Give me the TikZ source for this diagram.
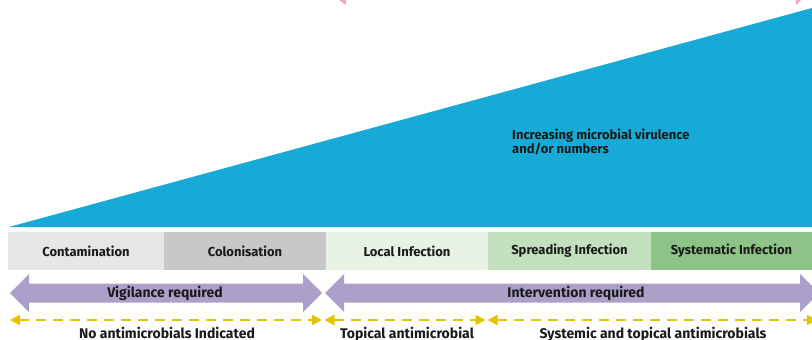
\documentclass[tikz,border=0pt]{standalone}
\usepackage{fontspec}
\setmainfont{Fira Sans}
\usetikzlibrary{arrows.meta}
\definecolor{skyblue}{HTML}{17AAD6}
\definecolor{contam}{HTML}{E6E6E6}
\definecolor{colon}{HTML}{C8C8C9}
\definecolor{localinf}{HTML}{E8F3E5}
\definecolor{spreadinf}{HTML}{C2E0BD}
\definecolor{systinf}{HTML}{8DC386}
\definecolor{lilac}{HTML}{ACA0CB}
\definecolor{gold}{HTML}{E6C200}
\definecolor{pinkish}{HTML}{F4A7B9}
\definecolor{ink}{HTML}{1A1A1A}
\tikzset{
  stagebox/.style={minimum height=38pt, inner sep=0pt, outer sep=0pt, text=ink,
     font=\fontsize{13}{15}\selectfont\bfseries},
  arrowlabel/.style={text=ink, font=\fontsize{14}{16}\selectfont\bfseries, inner sep=0pt},
  treatlabel/.style={text=ink, font=\fontsize{14}{16}\selectfont\bfseries, inner sep=0pt, anchor=base},
  bigarrow/.style={fill=lilac, draw=none},
  dashline/.style={draw=gold, line width=2.3pt, dash pattern=on 10pt off 7pt,
     {Triangle[length=10pt,width=10pt]}-{Triangle[length=10pt,width=10pt]}},
}
\begin{document}
\begin{tikzpicture}[x=1pt,y=-1pt]
\useasboundingbox (0,0) rectangle (812,340);
\clip (0,0) rectangle (812,340);
\fill[white] (0,0) rectangle (812,340);
% pink fragments at the top
\fill[pinkish] (339,0) -- (346,0) -- (346,5) -- cycle;
\fill[pinkish] (796,0) -- (801,0) -- (796,5) -- cycle;
% blue wedge
\fill[skyblue] (9,227) -- (812,8) -- (812,227) -- cycle;
\node[text=ink, font=\fontsize{13}{14}\selectfont\bfseries, align=left, anchor=base west, inner sep=0pt]
  (wedge) at (512,153) {Increasing microbial virulence\\and/or numbers};
% stages
\node[stagebox, fill=contam, minimum width=156pt] (s1) at (86,251) {Contamination};
\node[stagebox, fill=colon, minimum width=162pt] (s2) at (245,251) {Colonisation};
\node[stagebox, fill=localinf, minimum width=162pt] (s3) at (407,251) {Local Infection};
\node[stagebox, fill=spreadinf, minimum width=163pt] (s4) at (569.5,251) {Spreading Infection};
\node[stagebox, fill=systinf, minimum width=161pt] (s5) at (731.5,251) {Systematic Infection};
% purple double arrows
\fill[bigarrow] (10,293) -- (29,274) -- (29,283.5) -- (303,283.5) -- (303,274) -- (322,293)
   -- (303,312) -- (303,302.5) -- (29,302.5) -- (29,312) -- cycle;
\node[arrowlabel] (vig) at (165,293) {Vigilance required};
\fill[bigarrow] (325,293) -- (344,274) -- (344,283.5) -- (800,283.5) -- (800,274) -- (819,293)
   -- (800,312) -- (800,302.5) -- (344,302.5) -- (344,312) -- cycle;
\node[arrowlabel] (int) at (576,293) {Intervention required};
% dashed treatment ranges
\coordinate (d0) at (10,320);
\coordinate (d1) at (322,320);
\coordinate (d2) at (324.5,320);
\coordinate (d3) at (485.5,320);
\coordinate (d4) at (487.5,320);
\coordinate (d5) at (817,320);
\draw[dashline] (d0) -- (d1);
\draw[dashline] (d2) -- (d3);
\draw[dashline] (d4) -- (d5);
\node[treatlabel] (t1) at (167,338.5) {No antimicrobials Indicated};
\node[treatlabel] (t2) at (407,338.5) {Topical antimicrobial};
\node[treatlabel] (t3) at (653,338.5) {Systemic and topical antimicrobials};
\end{tikzpicture}
\end{document}
